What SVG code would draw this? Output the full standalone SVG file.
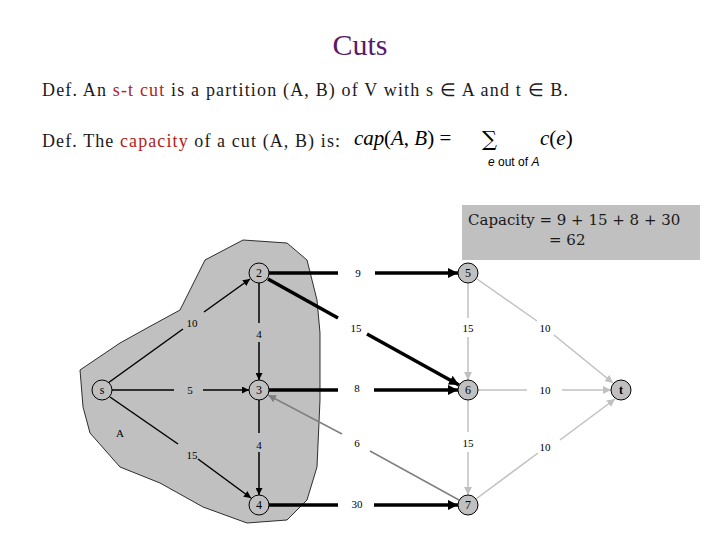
<svg xmlns="http://www.w3.org/2000/svg" width="720" height="540" viewBox="0 0 720 540">
<style>
.t{font-family:"Liberation Serif",serif;fill:#1a1a1a}
.r{fill:#b22222}
.lab{font-family:"Liberation Serif",serif;font-size:11px;text-anchor:middle;fill:#000}
.n circle{stroke:#000;stroke-width:1}
.n text{font-family:"Liberation Serif",serif;font-size:12px;text-anchor:middle}
.lb{stroke:#000;stroke-width:1.5;fill:none}
.tk{stroke:#000;stroke-width:3.5;fill:none}
.lg{stroke:#c0c0c0;stroke-width:1.5;fill:none}
.dg{stroke:#808080;stroke-width:1.5;fill:none}
</style>
<defs>
<marker id="ab" viewBox="0 0 10 10" refX="10" refY="5" markerWidth="7" markerHeight="7" orient="auto" markerUnits="userSpaceOnUse"><path d="M0,0L10,5L0,10z" fill="#000"/></marker>
<marker id="at" viewBox="0 0 10 10" refX="10" refY="5" markerWidth="10" markerHeight="10" orient="auto" markerUnits="userSpaceOnUse"><path d="M0,0L10,5L0,10z" fill="#000"/></marker>
<marker id="ag" viewBox="0 0 10 10" refX="10" refY="5" markerWidth="8" markerHeight="8" orient="auto" markerUnits="userSpaceOnUse"><path d="M0,0L10,5L0,10z" fill="#c0c0c0"/></marker>
<marker id="ad" viewBox="0 0 10 10" refX="10" refY="5" markerWidth="8" markerHeight="8" orient="auto" markerUnits="userSpaceOnUse"><path d="M0,0L10,5L0,10z" fill="#808080"/></marker>
</defs>
<rect width="720" height="540" fill="#fff"/>
<text x="360" y="55" font-family="Liberation Serif,serif" font-size="30" fill="#5a1a6a" text-anchor="middle">Cuts</text>
<text class="t" x="42" y="96" font-size="18" textLength="526" lengthAdjust="spacing">Def.  An <tspan class="r">s-t cut</tspan> is a partition (A, B) of V with s ∈ A and t ∈ B.</text>
<text class="t" x="42" y="147" font-size="18" textLength="298" lengthAdjust="spacing">Def. The <tspan class="r">capacity</tspan> of a cut (A, B) is:</text>
<text x="354" y="145" font-family="Liberation Serif,serif" font-size="21" font-style="italic">cap</text>
<text x="384" y="145" font-family="Liberation Serif,serif" font-size="21">(<tspan font-style="italic">A</tspan>, <tspan font-style="italic">B</tspan>)  =</text>
<text x="482" y="146" font-family="DejaVu Serif,serif" font-size="21">∑</text>
<text x="540" y="145" font-family="Liberation Serif,serif" font-size="21"><tspan font-style="italic">c</tspan>(<tspan font-style="italic">e</tspan>)</text>
<text x="488" y="166" font-family="Liberation Sans,sans-serif" font-size="12"><tspan font-style="italic">e</tspan> out of <tspan font-style="italic">A</tspan></text>
<rect x="462" y="205" width="238" height="55" fill="#c0c0c0"/>
<text x="468" y="225" font-family="DejaVu Serif,serif" font-size="15" fill="#1a1a1a">Capacity = 9 + 15 + 8 + 30</text>
<text x="549" y="245" font-family="DejaVu Serif,serif" font-size="15" fill="#1a1a1a">= 62</text>
<path id="A" d="M243,240 L205,260 L180,310 L147,328 L120,343 L80,370 L83,407 L90,433 L120,467 L160,483 L203,507 L247,523 L287,520 L307,500 L317,467 L320,400 L320,333 L317,300 L307,260 L287,243 Z" fill="#c0c0c0" stroke="#000" stroke-width="0.8"/>
<text class="lab" x="120" y="437" font-size="12">A</text>
<g id="connectors">
<path class="lb" d="M108,383 L183,329" /><path class="lb" d="M204,312 L250,279" marker-end="url(#ab)"/>
<path class="lb" d="M112,390 L174,390"/><path class="lb" d="M203,390 L249,390" marker-end="url(#ab)"/>
<path class="lb" d="M110,397 L178,444"/><path class="lb" d="M198,459 L251,498" marker-end="url(#ab)"/>
<path class="lb" d="M259,283 L259,323"/><path class="lb" d="M259,342 L259,380" marker-end="url(#ab)"/>
<path class="lb" d="M259,400 L259,433"/><path class="lb" d="M259,452 L259,495" marker-end="url(#ab)"/>
<path class="tk" d="M269,273 L338,273"/><path class="tk" d="M375,273 L458,273" marker-end="url(#at)"/>
<path class="tk" d="M268,279 L338,318"/><path class="tk" d="M367,334 L459,385" marker-end="url(#at)"/>
<path class="tk" d="M269,390 L338,390"/><path class="tk" d="M374,390 L458,390" marker-end="url(#at)"/>
<path class="tk" d="M269,505 L338,505"/><path class="tk" d="M374,505 L458,505" marker-end="url(#at)"/>
<path class="dg" d="M459,500 L370,451"/><path class="dg" d="M342,434 L268,395" marker-end="url(#ad)"/>
<path class="lg" d="M468,283 L468,318"/><path class="lg" d="M468,337 L468,380" marker-end="url(#ag)"/>
<path class="lg" d="M468,400 L468,432"/><path class="lg" d="M468,452 L468,495" marker-end="url(#ag)"/>
<path class="lg" d="M477,279 L537,321"/><path class="lg" d="M554,335 L613,383" marker-end="url(#ag)"/>
<path class="lg" d="M478,390 L527,390"/><path class="lg" d="M562,390 L611,390" marker-end="url(#ag)"/>
<path class="lg" d="M476,499 L538,453"/><path class="lg" d="M560,440 L615,399" marker-end="url(#ag)"/>
</g>
<g class="lab">
<text x="192" y="327">10</text><text x="190" y="394">5</text><text x="192" y="459">15</text>
<text x="259" y="338">4</text><text x="259" y="449">4</text>
<text x="358" y="277">9</text><text x="356" y="332">15</text><text x="357" y="392">8</text><text x="357" y="447">6</text><text x="357" y="508">30</text>
<text x="468" y="332">15</text><text x="468" y="447">15</text>
<text x="545" y="332">10</text><text x="545" y="394">10</text><text x="545" y="451">10</text>
</g>
<g id="s" class="n"><circle cx="102" cy="390" r="10" fill="#c0c0c0"/><text x="102" y="394">s</text></g>
<g id="n2" class="n"><circle cx="259" cy="273" r="10" fill="#c0c0c0"/><text x="259" y="277">2</text></g>
<g id="n3" class="n"><circle cx="259" cy="390" r="10" fill="#c0c0c0"/><text x="259" y="394">3</text></g>
<g id="n4" class="n"><circle cx="259" cy="505" r="10" fill="#c0c0c0"/><text x="259" y="509">4</text></g>
<g id="n5" class="n"><circle cx="468" cy="273" r="10" fill="#c0c0c0"/><text x="468" y="277">5</text></g>
<g id="n6" class="n"><circle cx="468" cy="390" r="10" fill="#c0c0c0"/><text x="468" y="394">6</text></g>
<g id="n7" class="n"><circle cx="468" cy="505" r="10" fill="#c0c0c0"/><text x="468" y="509">7</text></g>
<g id="t" class="n"><circle cx="621" cy="390" r="10" fill="#c0c0c0"/><text x="621" y="394" font-weight="bold">t</text></g>
</svg>
